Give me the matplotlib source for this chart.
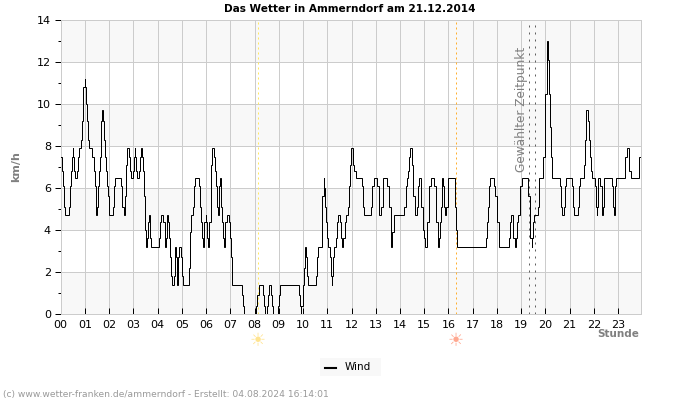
import matplotlib
matplotlib.use('Agg')
import matplotlib.pyplot as plt
import numpy as np

# wind readings: minute of the day at which the value changes, value in km/h
wind_minutes = [0,2,5,7,10,20,22,25,27,30,31,32,35,40,42,45,50,52,55,56,59,60,62,64,67,69,78,82,84,87,88,89,92,94,97,99,101,103,104,106,109,111,114,116,119,120,
    130,133,135,150,153,156,160,162,165,170,172,175,180,182,184,185,187,190,195,197,200,201,203,206,208,210,214,217,219,220,222,224,
    244,247,249,254,257,259,260,262,264,265,267,270,272,275,280,282,284,285,287,289,290,291,294,299,301,304,318,321,323,328,331,333,343,346,348,351,353,354,356,359,360,362,365,366,368,371,373,375,380,382,385,388,390,391,393,395,396,398,400,403,405,406,408,411,416,418,421,423,425,450,452,454,
    484,487,490,500,503,507,510,513,516,520,523,525,538,540,544,590,592,595,596,599,601,602,604,606,608,610,612,
    631,634,636,646,648,651,652,655,657,660,662,666,669,671,672,674,676,681,684,686,691,694,696,700,703,706,711,713,716,719,724,727,731,746,748,751,769,771,775,784,787,789,794,797,799,809,812,814,817,819,821,824,851,854,857,860,863,866,871,873,876,881,884,886,891,893,897,899,901,906,908,911,913,916,925,928,930,933,935,936,939,941,943,945,946,949,951,955,958,
    960,975,977,978,981,1054,1056,1059,1061,1064,1074,1076,1079,1081,1084,1086,1111,1113,1116,1121,1124,1126,1127,1129,1132,1136,1138,1141,1156,1158,1161,1163,1166,1167,1169,1171,1181,1183,1185,1195,1198,1200,1203,1205,1206,1208,1211,1213,1216,1236,1238,1241,1246,1248,1251,1266,1268,1271,1281,1283,1286,1296,1298,1301,1306,1308,1311,1313,1316,1323,1326,1327,1328,1330,1331,1336,1339,1341,1342,1344,1346,1366,1368,1371,1372,1373,1376,1396,1398,1401,1406,1408,1411,1431,1433,1436]
wind_kmh = [7.5,6.8,6.1,5.1,4.7,5.1,6.1,6.8,7.5,7.9,7.5,6.8,6.5,6.8,7.5,7.9,8.3,9.2,10.0,10.8,11.2,10.8,10.0,9.2,8.3,7.9,7.5,6.8,6.1,5.1,4.7,5.1,6.1,6.8,7.5,8.3,9.2,9.7,9.2,8.3,7.5,6.8,6.1,5.6,5.1,4.7,
    5.1,6.1,6.5,6.1,5.1,4.7,5.6,7.1,7.9,7.5,6.8,6.5,6.8,7.5,7.9,7.5,6.8,6.5,6.8,7.5,7.9,7.5,6.8,5.6,4.0,3.2,3.6,4.4,4.7,4.4,3.6,3.2,
    3.6,4.4,4.7,4.4,3.6,3.2,3.6,4.4,4.7,4.4,3.6,2.7,1.8,1.4,1.8,2.7,3.2,2.7,1.8,1.4,1.8,2.7,3.2,2.7,1.8,1.4,2.2,3.9,4.7,5.1,6.1,6.5,6.1,5.1,4.4,3.6,3.2,3.6,4.4,4.7,4.4,3.6,3.2,3.6,4.4,5.6,7.1,7.9,7.5,6.8,6.1,5.1,4.7,5.1,6.1,6.5,6.1,5.1,4.4,3.6,3.2,3.6,4.4,4.7,4.4,3.6,2.7,1.8,1.4,0.9,0.4,0,
    0.4,0.9,1.4,0.9,0.4,0,0.4,0.9,1.4,0.9,0.4,0,0.4,0.9,1.4,0.9,0.4,0,0.4,0.9,1.4,2.2,2.7,3.2,2.7,1.8,1.4,
    1.8,2.7,3.2,3.6,5.6,6.5,6.0,5.1,4.4,3.6,3.2,2.7,1.8,1.4,1.8,2.7,3.2,3.6,4.4,4.7,4.4,3.6,3.2,3.6,4.4,4.7,5.1,6.1,7.1,7.9,7.1,6.8,6.5,6.1,5.1,4.7,5.1,6.1,6.5,6.1,5.1,4.7,5.1,6.1,6.5,6.1,5.6,5.1,3.9,3.2,3.9,4.7,5.1,6.1,6.5,6.8,7.5,7.9,7.1,5.6,4.7,5.1,6.1,6.5,6.1,5.1,4.0,3.6,3.2,3.6,4.4,5.1,6.1,6.5,6.1,5.1,4.4,3.6,3.2,3.6,4.4,5.1,6.1,6.5,6.1,5.1,4.7,5.1,6.1,
    6.5,6.1,5.1,4.0,3.2,3.6,4.4,5.1,6.1,6.5,6.1,5.6,5.1,4.4,3.6,3.2,3.6,4.4,4.7,3.6,3.6,3.2,3.6,4.4,4.7,5.1,6.1,6.5,6.1,5.6,4.4,3.6,3.2,3.6,4.4,4.7,5.1,6.1,6.5,7.5,8.9,10.5,12.1,13.0,12.1,10.5,8.9,7.5,6.5,6.1,5.1,4.7,5.1,6.1,6.5,6.1,5.1,4.7,5.1,6.1,6.5,7.1,8.3,9.7,9.2,8.3,7.5,6.8,6.5,6.1,5.1,4.7,5.1,6.1,6.5,6.1,5.1,4.7,5.1,6.1,6.5,6.1,5.1,4.7,5.1,6.1,6.5,6.8,7.5,7.9,7.5,6.8,6.5,6.8,7.5,7.5]
hours = ['%02d' % h for h in range(24)]
sunrise = 8.15
sunset = 16.31
selected = [19.33, 19.58]

grey = '#808080'
fig = plt.figure(figsize=(7, 4), dpi=100)
ax = fig.add_axes([60.7/700, 1-314/400, 580/700, 294/400])
ax.set_xlim(0, 1436/60)
ax.set_ylim(0, 14)

for y0 in range(0, 14, 4):
    ax.axhspan(y0, y0+2, color='#f8f8f8', lw=0, zorder=0)
ax.set_xticks(range(24))
ax.set_xticklabels(hours, fontsize=8)
ax.set_yticks(range(0, 15, 2))
ax.set_yticks(range(1, 14, 2), minor=True)
ax.tick_params(axis='y', which='major', length=4, width=0.72, labelsize=8, pad=3, direction='out')
ax.tick_params(axis='y', which='minor', length=2, width=0.72, direction='out')
ax.tick_params(axis='x', length=4, width=0.72, direction='in', pad=4)
ax.grid(True, which='major', color='#cccccc', lw=0.72, zorder=1)
ax.set_axisbelow(True)
for s in ax.spines.values():
    s.set_color('#cccccc')
    s.set_linewidth(0.72)

ax.axvline(sunrise, color='#ffe860', lw=0.72, ls=(0, (2, 3)), zorder=2)
ax.axvline(sunset, color='#ffb030', lw=0.72, ls=(0, (2, 3)), zorder=2)
for t in selected:
    ax.axvline(t, color='#606060', lw=0.72, ls=(0, (2, 5)), zorder=2)
ax.text(19.02, 6.75, 'Gewählter Zeitpunkt', rotation=90, color=grey, fontsize=8.7,
        ha='center', va='bottom', zorder=3)

ax.plot(np.array(wind_minutes)/60, wind_kmh, color='black', lw=0.72, drawstyle='steps-post',
        zorder=4, solid_joinstyle='miter')

fig.text(349.5/700, 1-9/400, 'Das Wetter in Ammerndorf am 21.12.2014', fontsize=7.6, fontweight='bold',
         ha='center', va='center')
fig.text(16/700, 1-167/400, 'km/h', fontsize=8, fontweight='bold', color=grey, rotation=90,
         ha='center', va='center')
fig.text(639/700, 1-334/400, 'Stunde', fontsize=7.5, fontweight='bold', color=grey, ha='right', va='center')
fig.text(257.5/700, 1-341/400, '☀', fontsize=13, color='#ffe490', ha='center', va='center')
fig.text(455.5/700, 1-341/400, '☀', fontsize=13, color='#ffa890', ha='center', va='center')

fig.add_artist(plt.Rectangle((320/700, 1-376/400), 61/700, 18/400, transform=fig.transFigure,
                             facecolor='#f8f8f8', edgecolor='none'))
fig.add_artist(plt.Line2D([325/700, 336/700], [1-367.5/400]*2, color='black', lw=1.5))
fig.text(345/700, 1-366.5/400, 'Wind', fontsize=7.5, ha='left', va='center')
fig.text(3/700, 1-394/400, '(c) www.wetter-franken.de/ammerndorf - Erstellt: 04.08.2024 16:14:01',
         fontsize=6.6, color='#999999', ha='left', va='center')

fig.savefig('out.png', dpi=100)
